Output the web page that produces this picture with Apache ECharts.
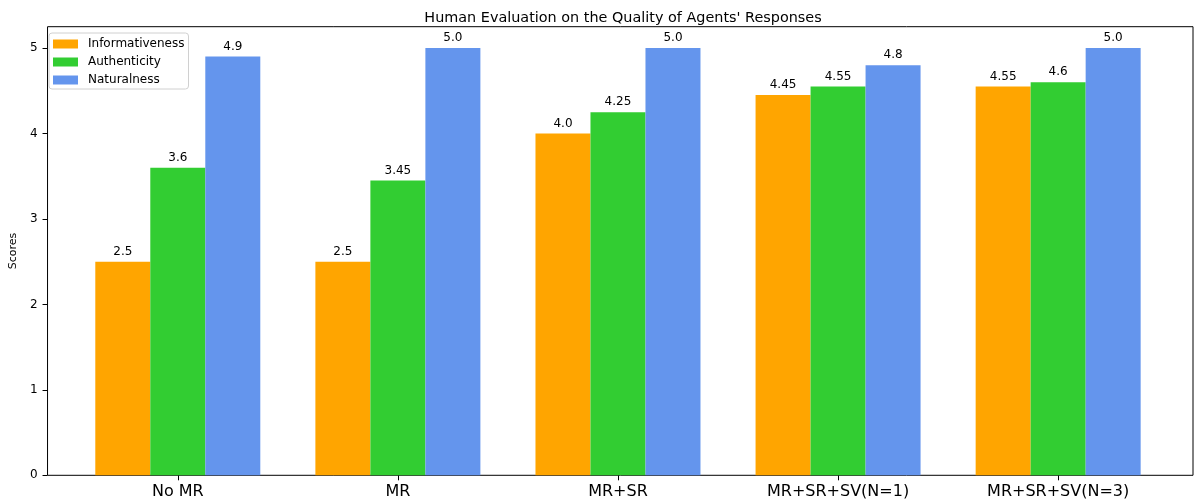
<!DOCTYPE html>
<html>
<head>
<meta charset="utf-8">
<script src="https://cdn.jsdelivr.net/npm/echarts@6/dist/echarts.min.js"></script>
<style>
  html, body { margin: 0; padding: 0; background: #fff; }
  #chart { width: 1196px; height: 502px; }
</style>
</head>
<body>
<div id="chart"></div>
<script>
var categories = ['No MR', 'MR', 'MR+SR', 'MR+SR+SV(N=1)', 'MR+SR+SV(N=3)'];
var informativeness = [2.5, 2.5, 4.0, 4.45, 4.55];
var authenticity = [3.6, 3.45, 4.25, 4.55, 4.6];
var naturalness = [4.9, 5.0, 5.0, 4.8, 5.0];
var yTicks = [0, 1, 2, 3, 4, 5];

var font = 'DejaVu Sans';

function fmt(v) {
  return Number.isInteger(v) ? v.toFixed(1) : String(v);
}

function barSeries(name, data, color) {
  return {
    name: name,
    type: 'bar',
    xAxisIndex: 0,
    yAxisIndex: 0,
    data: data,
    barWidth: 55,
    barGap: '0%',
    itemStyle: { color: color },
    label: {
      show: true,
      position: 'top',
      distance: 4,
      color: '#000',
      fontFamily: font,
      fontSize: 12,
      formatter: function(p) { return fmt(p.value); }
    }
  };
}

var chart = echarts.init(document.getElementById('chart'));

// bars sit in grid 0 (the category bands), frame + y axis live in grid 1
var option = {
  animation: false,
  textStyle: { fontFamily: font },
  title: {
    text: "Human Evaluation on the Quality of Agents' Responses",
    left: 618,
    textAlign: 'center',
    top: 6,
    textStyle: { fontFamily: font, fontSize: 14.4, fontWeight: 'normal', color: '#000' }
  },
  legend: {
    orient: 'vertical',
    left: 49,
    top: 33,
    padding: [5, 4, 3, 4],
    itemWidth: 25,
    itemHeight: 9,
    itemGap: 6,
    icon: 'rect',
    borderColor: '#d0d0d0',
    borderWidth: 1,
    borderRadius: 3,
    backgroundColor: 'rgba(255,255,255,0.8)',
    textStyle: { fontFamily: font, fontSize: 12, color: '#000', padding: [0, 0, 0, 5] },
    data: ['Informativeness', 'Authenticity', 'Naturalness']
  },
  grid: [
    { left: 67.75, right: 27.8, top: 26.7, bottom: 26.7 },
    { left: 43, right: 3, top: 26.7, bottom: 26.7, show: true, borderColor: '#000', borderWidth: 1, backgroundColor: 'transparent' }
  ],
  xAxis: [
    {
      type: 'category',
      gridIndex: 0,
      data: categories,
      axisLine: { show: false },
      axisTick: { show: true, alignWithLabel: true, length: 5, lineStyle: { color: '#000' } },
      axisLabel: { fontFamily: font, fontSize: 16, color: '#000', margin: 9 }
    },
    { type: 'value', gridIndex: 1, min: 0, max: 1, show: false }
  ],
  yAxis: [
    { type: 'value', gridIndex: 0, min: 0, max: 5.25, show: false },
    {
      type: 'value',
      gridIndex: 1,
      min: 0,
      max: 5.25,
      interval: 1,
      name: 'Scores',
      nameLocation: 'middle',
      nameGap: 21,
      nameTextStyle: { fontFamily: font, fontSize: 11, color: '#000' },
      axisLine: { show: false },
      axisTick: { show: true, length: 5, lineStyle: { color: '#000' } },
      splitLine: { show: false },
      axisLabel: {
        fontFamily: font, fontSize: 12, color: '#000', margin: 10,
        showMaxLabel: false,
        formatter: function(v) { return yTicks.indexOf(v) >= 0 ? String(v) : ''; }
      }
    }
  ],
  series: [
    barSeries('Informativeness', informativeness, '#FFA500'),
    barSeries('Authenticity', authenticity, '#32CD32'),
    barSeries('Naturalness', naturalness, '#6495ED')
  ]
};

chart.setOption(option);
</script>
</body>
</html>
